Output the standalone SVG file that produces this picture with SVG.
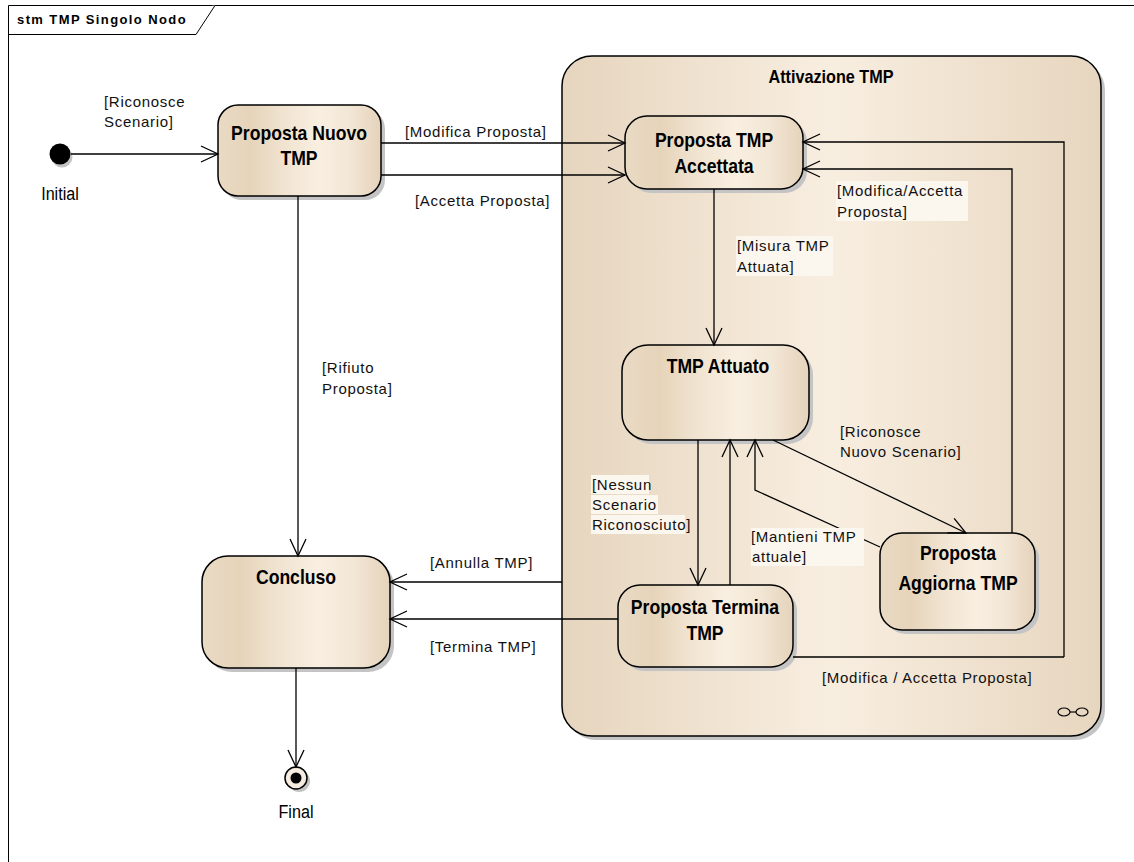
<svg xmlns="http://www.w3.org/2000/svg" width="1134" height="862" viewBox="0 0 1134 862">
<defs>
<linearGradient id="g" x1="0" y1="0" x2="1" y2="0">
<stop offset="0" stop-color="#E9DAC4"/>
<stop offset="0.2" stop-color="#E6D4BA"/>
<stop offset="0.4" stop-color="#F0E3D0"/>
<stop offset="0.62" stop-color="#F9EFE1"/>
<stop offset="0.8" stop-color="#F3E7D6"/>
<stop offset="1" stop-color="#E5D3BB"/>
</linearGradient>
<linearGradient id="gc" x1="0" y1="0" x2="1" y2="0">
<stop offset="0" stop-color="#E6D5BE"/>
<stop offset="0.5" stop-color="#F8EEE0"/>
<stop offset="1" stop-color="#E7D6BF"/>
</linearGradient>
<marker id="a" viewBox="0 0 20 20" refX="18" refY="10" markerWidth="20" markerHeight="20" markerUnits="userSpaceOnUse" orient="auto">
<path d="M1,2 L18,10 L1,18" fill="none" stroke="#000" stroke-width="1.3"/>
</marker>
<style>
.st{fill:url(#g);stroke:#000;stroke-width:1.5}
.sh{fill:#C4C4C4}
.nm{font-family:"Liberation Sans",Arial,sans-serif;font-weight:bold;font-size:20px;text-anchor:middle;fill:#000}
.ev{font-family:"Liberation Sans",Arial,sans-serif;font-size:19px;text-anchor:middle;fill:#000}
.lb{font-family:"Liberation Sans",Arial,sans-serif;font-size:15px;letter-spacing:0.7px;fill:#111}
.bg{fill:#FBF6EE}
.c{fill:none;stroke:#000;stroke-width:1.3}
.ca{fill:none;stroke:#000;stroke-width:1.3;marker-end:url(#a)}
</style>
</defs>
<rect x="0" y="0" width="1134" height="862" fill="#fff"/>
<g id="frame">
<path d="M8.5,862 V5.5 H1134" fill="none" stroke="#000" stroke-width="1"/>
<path d="M8.5,34.5 H196 L215,5.5" fill="#fff" stroke="#000" stroke-width="1"/>
<text x="17" y="24" font-family="Liberation Sans,Arial,sans-serif" font-weight="bold" font-size="13" letter-spacing="1.4">stm TMP Singolo Nodo</text>
</g>
<g id="attivazione">
<rect x="566" y="60" width="539" height="680" rx="30" class="sh"/>
<rect x="562" y="56" width="539" height="680" rx="30" fill="url(#gc)" stroke="#000" stroke-width="1.5"/>
<text transform="translate(831,83) scale(0.9,1)" class="nm" style="font-size:18px">Attivazione TMP</text>
<g fill="none" stroke="#000" stroke-width="1.2">
<ellipse cx="1064" cy="712" rx="6" ry="4"/>
<ellipse cx="1082" cy="712" rx="6" ry="4"/>
<line x1="1070" y1="712" x2="1076" y2="712"/>
</g>
</g>
<g id="initial">
<circle cx="62" cy="157" r="10.5" fill="#C4C4C4"/>
<circle cx="60" cy="154" r="10.5" fill="#000"/>
<text transform="translate(60,200) scale(0.85,1)" class="ev">Initial</text>
</g>
<g id="final">
<circle cx="299" cy="781" r="11" fill="#C4C4C4"/>
<circle cx="296" cy="778" r="11" fill="#F6EDE0" stroke="#000" stroke-width="1.5"/>
<circle cx="296" cy="778" r="5.5" fill="#000"/>
<text transform="translate(296,818) scale(0.85,1)" class="ev">Final</text>
</g>
<g id="proposta-nuovo">
<rect x="222" y="109" width="163" height="91" rx="20" class="sh"/>
<rect x="218" y="105" width="163" height="91" rx="20" class="st"/>
<text transform="translate(299,140) scale(0.88,1)" class="nm">Proposta Nuovo</text>
<text transform="translate(299,165) scale(0.88,1)" class="nm">TMP</text>
</g>
<g id="accettata">
<rect x="629" y="120" width="178" height="73" rx="22" class="sh"/>
<rect x="625" y="116" width="178" height="73" rx="22" class="st"/>
<text transform="translate(714,147) scale(0.88,1)" class="nm">Proposta TMP</text>
<text transform="translate(714,173) scale(0.88,1)" class="nm">Accettata</text>
</g>
<g id="attuato">
<rect x="626" y="349" width="187" height="95" rx="26" class="sh"/>
<rect x="622" y="345" width="187" height="95" rx="26" class="st"/>
<text transform="translate(718,373) scale(0.88,1)" class="nm">TMP Attuato</text>
</g>
<g id="termina">
<rect x="622" y="589" width="175" height="82" rx="22" class="sh"/>
<rect x="618" y="585" width="175" height="82" rx="22" class="st"/>
<text transform="translate(705,614) scale(0.88,1)" class="nm">Proposta Termina</text>
<text transform="translate(705,640) scale(0.88,1)" class="nm">TMP</text>
</g>
<g id="aggiorna">
<rect x="884" y="537" width="155" height="97" rx="22" class="sh"/>
<rect x="880" y="533" width="155" height="97" rx="22" class="st"/>
<text transform="translate(958,560) scale(0.88,1)" class="nm">Proposta</text>
<text transform="translate(958,590) scale(0.88,1)" class="nm">Aggiorna TMP</text>
</g>
<g id="concluso">
<rect x="206" y="560" width="188" height="112" rx="26" class="sh"/>
<rect x="202" y="556" width="188" height="112" rx="26" class="st"/>
<text transform="translate(296,584) scale(0.88,1)" class="nm">Concluso</text>
</g>
<g id="connectors">
<path class="ca" d="M71,154 H218"/>
<path class="ca" d="M381,143 H625"/>
<path class="ca" d="M381,175 H625"/>
<path class="ca" d="M1064,657 V142 H803"/>
<path class="ca" d="M1012,533 V169 H803"/>
<path class="ca" d="M714,189 V345"/>
<path class="ca" d="M698,440 V585"/>
<path class="ca" d="M730,585 V440"/>
<path class="ca" d="M773,440 L966,533"/>
<path class="ca" d="M880,547 L755,490 V440"/>
<path class="c" d="M793,657 H1064"/>
<path class="ca" d="M562,582 H390"/>
<path class="ca" d="M618,619 H390"/>
<path class="ca" d="M298,196 V556"/>
<path class="ca" d="M296,668 V767"/>
</g>
<g id="labels">
<text class="lb" x="104" y="107">[Riconosce</text>
<text class="lb" x="104" y="127">Scenario]</text>
<text class="lb" x="405" y="137">[Modifica Proposta]</text>
<text class="lb" x="415" y="206">[Accetta Proposta]</text>
<rect class="bg" x="836" y="181" width="132" height="40"/>
<text class="lb" x="837" y="196">[Modifica/Accetta</text>
<text class="lb" x="837" y="217">Proposta]</text>
<rect class="bg" x="736" y="236" width="97" height="40"/>
<text class="lb" x="737" y="251">[Misura TMP</text>
<text class="lb" x="737" y="272">Attuata]</text>
<text class="lb" x="322" y="373">[Rifiuto</text>
<text class="lb" x="322" y="394">Proposta]</text>
<text class="lb" x="840" y="437">[Riconosce</text>
<text class="lb" x="840" y="457">Nuovo Scenario]</text>
<rect class="bg" x="591" y="475" width="58" height="19"/>
<rect class="bg" x="591" y="495" width="67" height="19"/>
<rect class="bg" x="591" y="515" width="94" height="19"/>
<text class="lb" x="592" y="490">[Nessun</text>
<text class="lb" x="592" y="510">Scenario</text>
<text class="lb" x="592" y="530">Riconosciuto]</text>
<rect class="bg" x="751" y="528" width="113" height="38"/>
<text class="lb" x="751" y="542">[Mantieni TMP</text>
<text class="lb" x="752" y="562">attuale]</text>
<text class="lb" x="430" y="568">[Annulla TMP]</text>
<text class="lb" x="430" y="652">[Termina TMP]</text>
<text class="lb" x="822" y="683">[Modifica / Accetta Proposta]</text>
</g>
</svg>
